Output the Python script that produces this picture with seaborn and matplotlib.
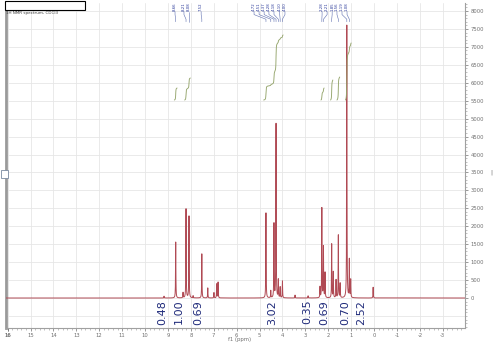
import numpy as np
import pandas as pd
import matplotlib
matplotlib.use("Agg")
import matplotlib.pyplot as plt
import seaborn as sns
from matplotlib.patches import Rectangle
from matplotlib.ticker import MultipleLocator

# ---------------- data ----------------
peak_ppm = [9.17, 8.66, 8.34, 8.21, 8.08, 7.90, 7.52, 7.26, 6.99, 6.87, 6.81,
            4.72, 4.51, 4.37, 4.28, 4.18, 4.10, 4.00, 3.45, 2.88,
            2.36, 2.28, 2.21, 2.14, 1.85, 1.78, 1.66, 1.56, 1.48, 1.19, 1.08, 1.02, 0.04]
peak_height = [50, 1560, 150, 2480, 2280, 60, 1230, 280, 150, 390, 440,
               2370, 200, 2060, 4850, 500, 300, 470, 80, 60,
               300, 2500, 1420, 700, 1500, 720, 500, 1750, 400, 7600, 1060, 500, 300]

integral_lo = [8.60, 8.02, 3.97, 2.18, 1.80, 1.50, 1.00]
integral_hi = [8.72, 8.27, 4.82, 2.32, 1.90, 1.62, 1.25]
integral_rise = [334, 613, 1812, 334, 557, 641, 1589]
integral_base = 5519

integral_labels = ["0.48", "1.00", "0.69", "3.02", "0.35", "0.69", "0.70", "2.52"]
integral_label_ppm = [9.26, 8.52, 7.69, 4.45, 2.93, 2.18, 1.27, 0.57]

peak_label_ppm = [8.66, 8.21, 8.08, 7.52,
                  4.72, 4.51, 4.37, 4.28, 4.18, 4.10, 4.00,
                  2.28, 2.21, 1.85, 1.56, 1.19, 1.08]
peak_label_pos = [8.69, 8.30, 8.08, 7.55,
                  5.24, 5.02, 4.80, 4.59, 4.37, 4.12, 3.89,
                  2.27, 2.05, 1.83, 1.62, 1.40, 1.18]

x_ticks = list(range(-3, 17))
y_ticks = list(range(0, 8001, 500))

# ---------------- build spectrum line from peak list ----------------
ppm = np.linspace(-4.0, 16.1, 20101)
gamma = 0.008
spec = np.zeros_like(ppm)
for c, h in zip(peak_ppm, peak_height):
    spec += h * gamma**2 / ((ppm - c) ** 2 + gamma**2)
df = pd.DataFrame({"ppm": ppm, "intensity": spec})

# ---------------- figure ----------------
sns.set_style("white")
plt.rcParams["font.family"] = ["DejaVu Sans"]
fig = plt.figure(figsize=(4.95, 3.43), dpi=100)
ax = fig.add_axes([6 / 495, 15 / 343, 459 / 495, 325 / 343])

ax.set_xlim(16.07, -3.97)
ax.set_ylim(-836, 8223)

# grid
for xv in x_ticks + [16]:
    ax.axvline(xv, color="#e6e6e6", lw=0.6, zorder=0)
for yv in range(-500, 8001, 500):
    ax.axhline(yv, color="#e6e6e6", lw=0.6, zorder=0)

sns.lineplot(data=df, x="ppm", y="intensity", ax=ax, color="#b04a54",
             linewidth=0.7, estimator=None, sort=False, zorder=3)

# integral curves
for lo, hi, rise in zip(integral_lo, integral_hi, integral_rise):
    m = (ppm >= lo) & (ppm <= hi)
    xs = ppm[m][::-1]
    ys = spec[m][::-1]
    cum = np.cumsum(ys)
    cum = (cum - cum[0]) / (cum[-1] - cum[0])
    ax.plot(xs, integral_base + rise * cum, color="#95a56c", lw=0.65, zorder=4)

# integration labels
for lab, p in zip(integral_labels, integral_label_ppm):
    ax.text(p, -50, lab, rotation=90, ha="center", va="top", fontsize=8,
            color="#1f2a7a", zorder=5)

# peak labels with leaders
for p, lp in zip(peak_label_ppm, peak_label_pos):
    ax.text(lp, 7990, f"{p:.2f}", rotation=90, ha="center", va="bottom",
            fontsize=2.8, color="#2b3a9a", clip_on=False)
    ax.plot([lp, lp, p, p], [7985, 7900, 7770, 7700], color="#6070b0", lw=0.4)

# axes styling
ax.yaxis.tick_right()
ax.set_yticks(y_ticks)
ax.set_yticklabels([str(v) for v in y_ticks])
ax.yaxis.set_minor_locator(MultipleLocator(100))
ax.set_xticks(x_ticks + [16])
ax.set_xticklabels([str(v) for v in x_ticks + [16]])
ax.xaxis.set_minor_locator(MultipleLocator(0.2))
ax.tick_params(axis="y", which="major", length=2.5, width=0.5, labelsize=3.8,
               colors="#707070", pad=1.5, direction="out", right=True, left=False)
ax.tick_params(axis="y", which="minor", length=1.2, width=0.4, colors="#909090",
               right=True, left=False)
ax.tick_params(axis="x", which="major", length=2.5, width=0.5, labelsize=3.8,
               colors="#707070", pad=1, direction="out", bottom=True)
ax.tick_params(axis="x", which="minor", length=1.2, width=0.4, colors="#909090",
               bottom=True)
ax.set_xlabel("")
ax.set_ylabel("")
ax.spines["top"].set_visible(False)
ax.spines["left"].set_color("#9a9a9a")
ax.spines["left"].set_linewidth(2.0)
ax.spines["right"].set_color("#a0a0a0")
ax.spines["right"].set_linewidth(0.8)
ax.spines["bottom"].set_color("#a0a0a0")
ax.spines["bottom"].set_linewidth(0.8)

fig.text(228 / 495, 1 - 340 / 343, "f1 (ppm)", fontsize=3.8, color="#707070",
         va="center")

# title box and small decorations
fig.patches.append(Rectangle((5 / 495, 1 - 10 / 343), 80 / 495, 9 / 343,
                             transform=fig.transFigure, facecolor="white",
                             edgecolor="black", lw=0.8, zorder=10))
fig.text(6 / 495, 1 - 13 / 343, "1H NMR spectrum, CDCl3", fontsize=3,
         color="#404040", va="center")
fig.patches.append(Rectangle((1 / 495, 1 - 178 / 343), 7 / 495, 8 / 343,
                             transform=fig.transFigure, facecolor="white",
                             edgecolor="#7a8aa0", lw=0.6, zorder=10))
fig.text(490 / 495, 1 - 172 / 343, "|", fontsize=4, color="#606060", va="center")

fig.savefig("out.png", dpi=100)
